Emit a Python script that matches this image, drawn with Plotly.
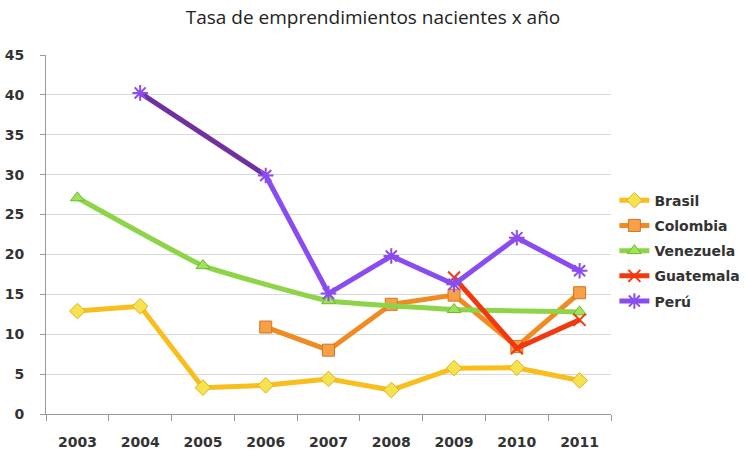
import plotly.graph_objects as go

years = ["2003", "2004", "2005", "2006", "2007", "2008", "2009", "2010", "2011"]
brasil = [12.9, 13.5, 3.3, 3.6, 4.4, 3.0, 5.75, 5.8, 4.2]
colombia = [None, None, None, 10.9, 8.0, 13.75, 14.9, 8.45, 15.2]
venezuela = [27.1, None, 18.6, None, 14.2, None, 13.1, None, 12.8]
guatemala = [None, None, None, None, None, None, 17.1, 8.25, 11.8]
peru = [None, 40.25, None, 29.9, 15.1, 19.8, 16.25, 22.1, 17.95]

title = "Tasa de emprendimientos nacientes x año"

fig = go.Figure()

fig.add_trace(go.Scatter(
    x=years, y=brasil, name="Brasil", mode="lines+markers", legendgroup="a",
    line=dict(color="#F9BE1C", width=5),
    marker=dict(symbol="diamond", size=12, color="#F6E24E", line=dict(color="#E0B020", width=1))))
fig.add_trace(go.Scatter(
    x=years, y=colombia, name="Colombia", mode="lines+markers", legendgroup="b",
    line=dict(color="#F08A22", width=5),
    marker=dict(symbol="square", size=12, color="#F7A04A", line=dict(color="#D8741A", width=1))))
fig.add_trace(go.Scatter(
    x=years, y=venezuela, name="Venezuela", mode="lines+markers", legendgroup="c",
    connectgaps=True, line=dict(color="#8DD448", width=5, shape="spline", smoothing=0.35),
    marker=dict(symbol="triangle-up", size=12, color="#9EE35A", line=dict(color="#70B830", width=1))))
fig.add_trace(go.Scatter(
    x=years, y=guatemala, name="Guatemala", mode="lines+markers", legendgroup="d",
    line=dict(color="#F2380E", width=5),
    marker=dict(symbol="x-thin-open", size=12, color="#F2380E", line=dict(color="#F2380E", width=2))))

# dark connecting segment of Perú across the missing 2005 value
seg_x = [years[1], years[3]]
seg_y = [peru[1], peru[3]]
fig.add_trace(go.Scatter(x=seg_x, y=seg_y, mode="lines", showlegend=False,
                         line=dict(color="#7030A0", width=5), hoverinfo="skip"))

fig.add_trace(go.Scatter(
    x=years, y=peru, name="Perú", mode="lines+markers", legendgroup="e",
    connectgaps=False, line=dict(color="#8A4CF0", width=5),
    marker=dict(symbol="asterisk-open", size=13, color="#8A4CF0", line=dict(color="#8A4CF0", width=2))))

tick_font = dict(family="DejaVu Sans, sans-serif", size=14, color="#333", weight="bold")

fig.update_layout(
    width=746, height=450,
    paper_bgcolor="white", plot_bgcolor="white",
    margin=dict(l=46, r=135, t=55, b=36, autoexpand=False),
    title=dict(text=title, x=0.5, xanchor="center", y=0.962, yanchor="middle",
               font=dict(family="Open Sans, Lato, sans-serif", size=19, color="#222", weight="normal")),
    font=dict(family="DejaVu Sans, sans-serif", size=14, color="#333"),
    legend=dict(x=1.006, xanchor="left", y=0.455, yanchor="middle",
                font=tick_font, tracegroupgap=4, bgcolor="rgba(0,0,0,0)"),
    showlegend=True,
)
fig.update_xaxes(type="category", categoryorder="array", categoryarray=years,
                 range=[-0.5, 8.5], showgrid=False, automargin=False,
                 showline=True, linecolor="#999", linewidth=1,
                 ticks="outside", tickson="boundaries", ticklen=6, tickcolor="#999",
                 ticklabelstandoff=15, tickfont=tick_font)
fig.update_yaxes(range=[0, 45], dtick=5, showgrid=True, gridcolor="#D9D9D9", gridwidth=1,
                 showline=True, linecolor="#999", linewidth=1, zeroline=False, automargin=False,
                 ticks="outside", ticklen=5, tickcolor="#999",
                 ticklabelstandoff=13, tickfont=tick_font)

fig.write_html("out.html", config={"displayModeBar": False},
               post_script="document.body.style.margin='0px';")
